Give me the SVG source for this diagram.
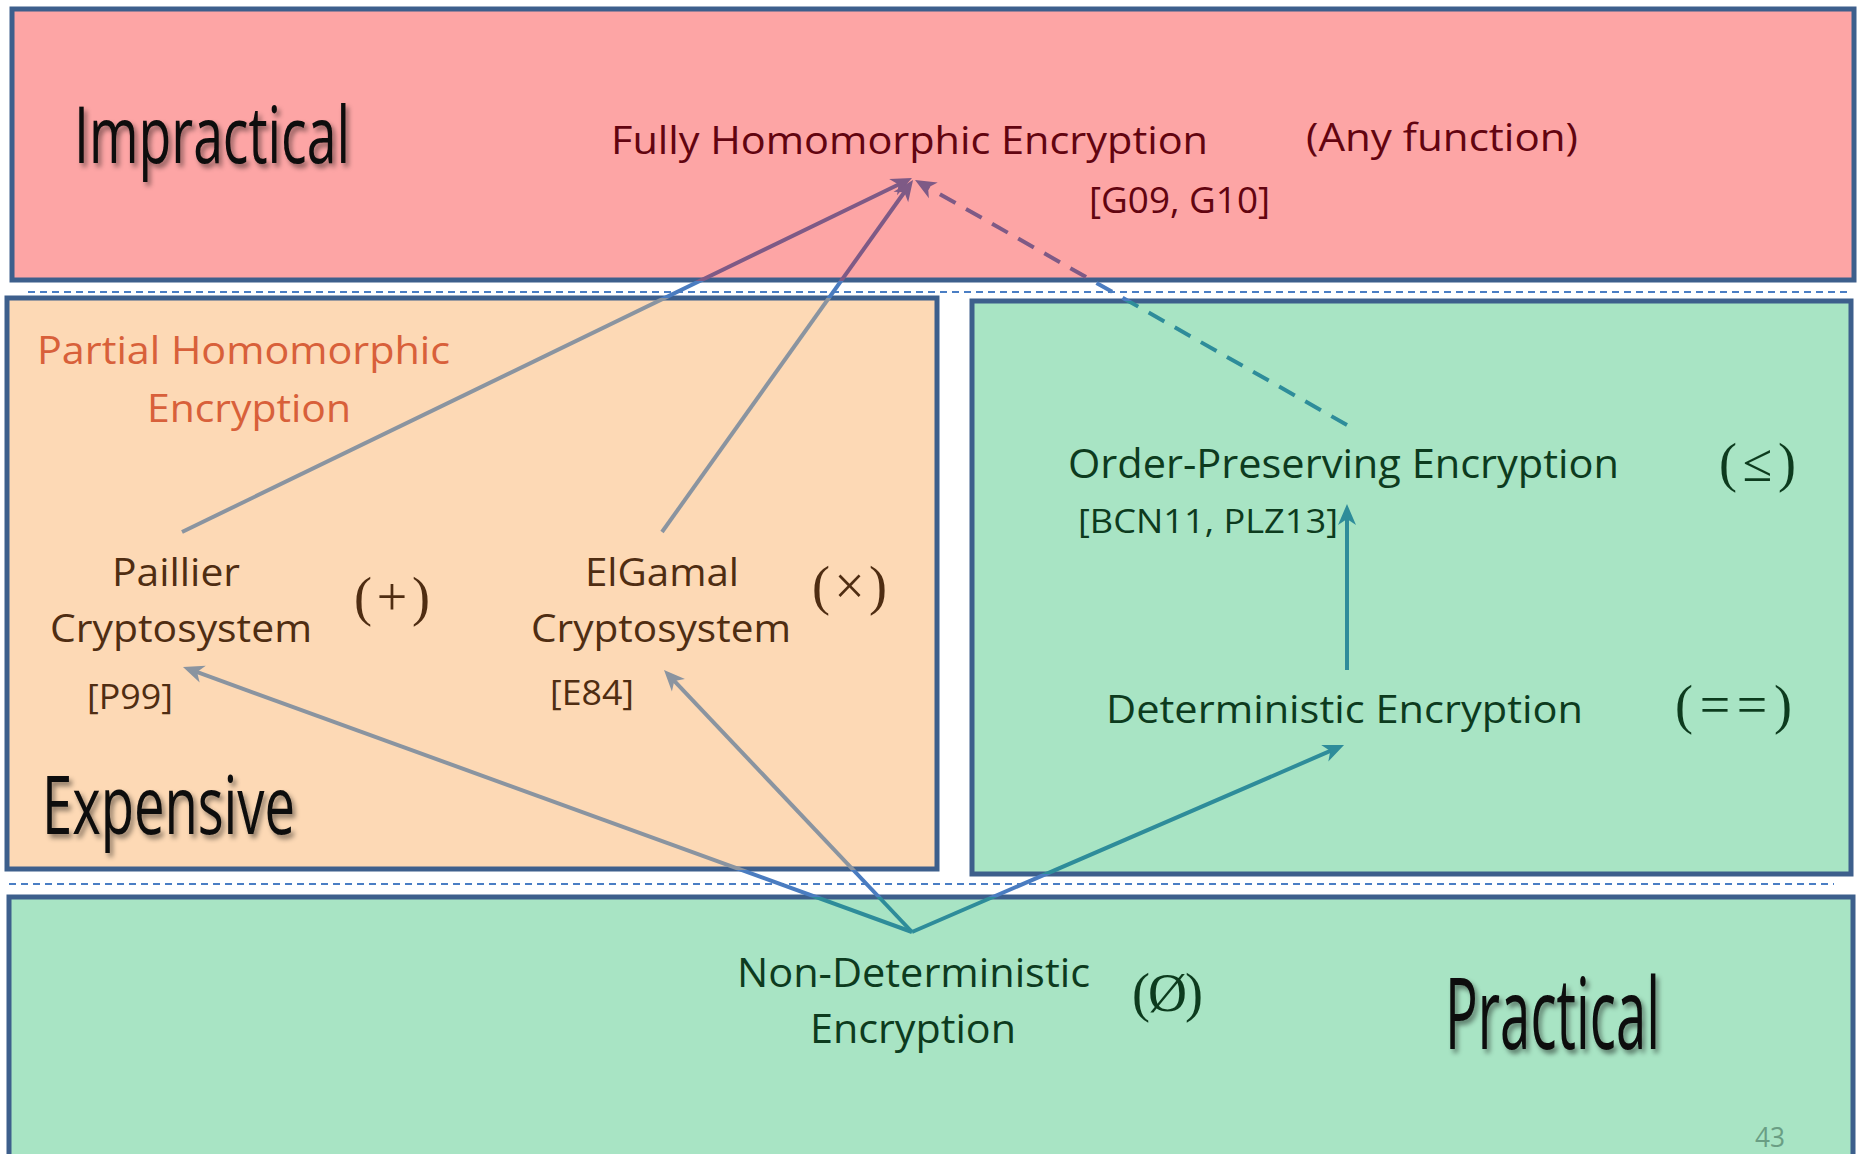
<svg xmlns="http://www.w3.org/2000/svg" width="1858" height="1154" viewBox="0 0 1858 1154">
<style>
.zone{stroke:#3d5f8c;stroke-width:5}
.sep{stroke:#4a7ec4;stroke-width:2.2;stroke-dasharray:7 5;fill:none}
text{font-family:"Open Sans","Liberation Sans",sans-serif}
.big{font-size:80px;fill:#0a0a0a;filter:url(#shadow)}
.fhe{font-size:39px;fill:#620410}
.phe{font-size:38px;fill:#d8603a}
.brn{font-size:38px;fill:#4f2d12}
.grn{font-size:39px;fill:#0d3b1e}
.sym{font-family:"Liberation Serif","DejaVu Serif",serif;font-size:54px}
.ref{font-size:34px}
.con{fill:none;stroke-width:4}
</style>
<defs>
<filter id="shadow" x="-10%" y="-20%" width="130%" height="150%">
<feDropShadow dx="3" dy="4" stdDeviation="2.5" flood-color="#000" flood-opacity="0.45"/>
</filter>
<linearGradient id="gradL" gradientUnits="userSpaceOnUse" x1="0" y1="0" x2="0" y2="1154">
<stop offset="0" stop-color="#7e5a86"/><stop offset="0.2435" stop-color="#7e5a86"/>
<stop offset="0.2435" stop-color="#4a7cc0"/><stop offset="0.2582" stop-color="#4a7cc0"/>
<stop offset="0.2582" stop-color="#8a94a0"/><stop offset="0.7539" stop-color="#8a94a0"/>
<stop offset="0.7539" stop-color="#4a7cc0"/><stop offset="0.7773" stop-color="#4a7cc0"/>
<stop offset="0.7773" stop-color="#2e8c9a"/><stop offset="1" stop-color="#2e8c9a"/>
</linearGradient>
<linearGradient id="gradR" gradientUnits="userSpaceOnUse" x1="0" y1="0" x2="0" y2="1154">
<stop offset="0" stop-color="#7e5a86"/><stop offset="0.2435" stop-color="#7e5a86"/>
<stop offset="0.2435" stop-color="#4a7cc0"/><stop offset="0.2608" stop-color="#4a7cc0"/>
<stop offset="0.2608" stop-color="#2e8c9a"/><stop offset="0.7574" stop-color="#2e8c9a"/>
<stop offset="0.7574" stop-color="#4a7cc0"/><stop offset="0.7773" stop-color="#4a7cc0"/>
<stop offset="0.7773" stop-color="#2e8c9a"/><stop offset="1" stop-color="#2e8c9a"/>
</linearGradient>
<marker id="arP" markerUnits="userSpaceOnUse" markerWidth="30" markerHeight="30" viewBox="-15 -15 30 30" refX="0" refY="0" orient="auto" overflow="visible">
<path d="M8,0 L-13,-9 L-7,0 L-13,9 Z" fill="#7e5a86"/>
</marker>
<marker id="arG" markerUnits="userSpaceOnUse" markerWidth="30" markerHeight="30" viewBox="-15 -15 30 30" refX="0" refY="0" orient="auto" overflow="visible">
<path d="M8,0 L-13,-9 L-7,0 L-13,9 Z" fill="#8a94a0"/>
</marker>
<marker id="arT" markerUnits="userSpaceOnUse" markerWidth="30" markerHeight="30" viewBox="-15 -15 30 30" refX="0" refY="0" orient="auto" overflow="visible">
<path d="M8,0 L-13,-9 L-7,0 L-13,9 Z" fill="#2e8c9a"/>
</marker>
</defs>
<rect width="1858" height="1154" fill="#ffffff"/>

<g id="zone-impractical">
<rect class="zone" x="12" y="9" width="1842" height="271" fill="#fda5a5"/>
<text class="big" x="74" y="163" textLength="276" lengthAdjust="spacingAndGlyphs" style="font-size:78px">Impractical</text>
</g>
<g id="zone-phe">
<rect class="zone" x="7" y="298" width="930" height="571" fill="#fdd9b5"/>
<text class="phe" x="37" y="364" textLength="413" lengthAdjust="spacingAndGlyphs">Partial Homomorphic</text>
<text class="phe" x="147" y="422" textLength="204" lengthAdjust="spacingAndGlyphs">Encryption</text>
<text class="big" x="42" y="834" textLength="253" lengthAdjust="spacingAndGlyphs">Expensive</text>
</g>
<g id="zone-deterministic">
<rect class="zone" x="972" y="301" width="879" height="573" fill="#a8e4c4"/>
</g>
<g id="zone-practical">
<rect class="zone" x="9" y="897" width="1844" height="270" fill="#a8e4c4"/>
<text class="big" x="1445" y="1049" textLength="215" lengthAdjust="spacingAndGlyphs" style="font-size:99px">Practical</text>
<text x="1755" y="1147" textLength="30" lengthAdjust="spacingAndGlyphs" style="font-size:28px;fill:#6a9e84">43</text>
</g>

<g id="separators">
<line class="sep" x1="28" y1="292" x2="1852" y2="292"/>
<line class="sep" x1="9" y1="884" x2="1834" y2="884"/>
</g>

<g id="connectors">
<path class="con" d="M182,532 L904.8,181.5" stroke="url(#gradL)" marker-end="url(#arP)"/>
<path class="con" d="M662,532 L908.4,186.5" stroke="url(#gradL)" marker-end="url(#arP)"/>
<path class="con" d="M1347,425 L922,184" stroke="url(#gradR)" stroke-dasharray="18 12" marker-end="url(#arP)"/>
<path class="con" d="M912,932 L190.5,669.7" stroke="url(#gradL)" marker-end="url(#arG)"/>
<path class="con" d="M912,932 L669.5,675.8" stroke="url(#gradL)" marker-end="url(#arG)"/>
<path class="con" d="M912,932 L1336.7,748.2" stroke="url(#gradR)" marker-end="url(#arT)"/>
<path class="con" d="M1347,670 L1347,512" stroke="#2e8c9a" marker-end="url(#arT)"/>
</g>

<g id="node-fhe">
<text class="fhe" x="611" y="154" textLength="597" lengthAdjust="spacingAndGlyphs">Fully Homomorphic Encryption</text>
<text class="fhe" x="1306" y="151" textLength="272" lengthAdjust="spacingAndGlyphs">(Any function)</text>
<text class="fhe ref" x="1089" y="213" textLength="181" lengthAdjust="spacingAndGlyphs" style="font-size:36px">[G09, G10]</text>
</g>
<g id="node-paillier">
<text class="brn" x="112" y="586" textLength="128" lengthAdjust="spacingAndGlyphs">Paillier</text>
<text class="brn" x="50" y="642" textLength="262" lengthAdjust="spacingAndGlyphs">Cryptosystem</text>
<text class="brn ref" x="87" y="709" textLength="86" lengthAdjust="spacingAndGlyphs">[P99]</text>
<text class="brn sym" x="354" y="615" textLength="76" lengthAdjust="spacing">(+)</text>
</g>
<g id="node-elgamal">
<text class="brn" x="585" y="586" textLength="154" lengthAdjust="spacingAndGlyphs">ElGamal</text>
<text class="brn" x="531" y="642" textLength="260" lengthAdjust="spacingAndGlyphs">Cryptosystem</text>
<text class="brn ref" x="550" y="705" textLength="84" lengthAdjust="spacingAndGlyphs">[E84]</text>
<text class="brn sym" x="812" y="604" textLength="75" lengthAdjust="spacing">(×)</text>
</g>
<g id="node-ope">
<text class="grn" x="1068" y="478" textLength="551" lengthAdjust="spacingAndGlyphs" style="font-size:40px">Order-Preserving Encryption</text>
<text class="grn ref" x="1078" y="533" textLength="260" lengthAdjust="spacingAndGlyphs" style="font-size:33px">[BCN11, PLZ13]</text>
<text class="grn sym" x="1719" y="481" textLength="77" lengthAdjust="spacing">(≤)</text>
</g>
<g id="node-det">
<text class="grn" x="1106" y="723" textLength="477" lengthAdjust="spacingAndGlyphs">Deterministic Encryption</text>
<text class="grn sym" x="1675" y="723" textLength="117" lengthAdjust="spacing">(==)</text>
</g>
<g id="node-nondet">
<text class="grn" x="737" y="987" textLength="353" lengthAdjust="spacingAndGlyphs" style="font-size:40px">Non-Deterministic</text>
<text class="grn" x="810" y="1043" textLength="206" lengthAdjust="spacingAndGlyphs" style="font-size:40px">Encryption</text>
<text class="grn sym" x="1132" y="1011" textLength="71" lengthAdjust="spacing">(Ø)</text>
</g>
</svg>
